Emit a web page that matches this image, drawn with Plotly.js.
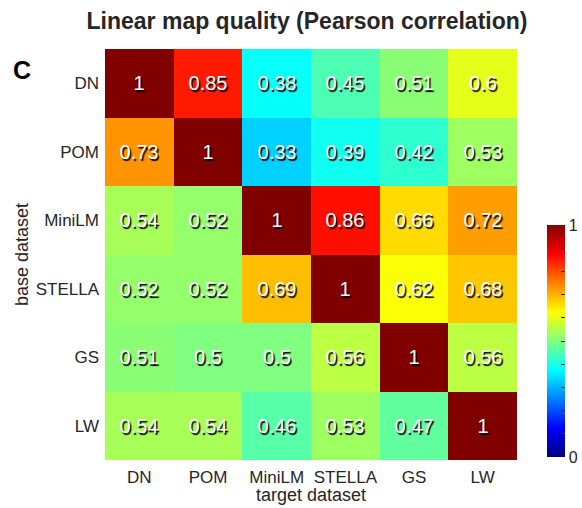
<!DOCTYPE html>
<html><head><meta charset="utf-8">
<script src="https://cdn.plot.ly/plotly-3.0.1.min.js"></script>
<style>html,body{margin:0;padding:0;background:#fff}#c{width:582px;height:508px}</style>
</head><body><div id="c"></div>
<script>
const targets = ['DN','POM','MiniLM','STELLA','GS','LW'];
const bases = ['DN','POM','MiniLM','STELLA','GS','LW'];
const rowDN = [1, 0.85, 0.38, 0.45, 0.51, 0.6];
const rowPOM = [0.73, 1, 0.33, 0.39, 0.42, 0.53];
const rowMiniLM = [0.54, 0.52, 1, 0.86, 0.66, 0.72];
const rowSTELLA = [0.52, 0.52, 0.69, 1, 0.62, 0.68];
const rowGS = [0.51, 0.5, 0.5, 0.56, 1, 0.56];
const rowLW = [0.54, 0.54, 0.46, 0.53, 0.47, 1];
const z = [rowDN, rowPOM, rowMiniLM, rowSTELLA, rowGS, rowLW];
const cbTickVals = [0,0.1,0.2,0.3,0.4,0.5,0.6,0.7,0.8,0.9,1];
const cbTickText = ['0','','','','','','','','','','1'];

const jet = [[0,'rgb(0,0,128)'],[0.125,'rgb(0,0,255)'],[0.375,'rgb(0,255,255)'],[0.625,'rgb(255,255,0)'],[0.875,'rgb(255,0,0)'],[1,'rgb(128,0,0)']];
const txtCol = '#262626';
const fam = '"Liberation Sans", Arial, sans-serif';
const L = 105, R = 517, T = 49, B = 460, W = 582, H = 508;
const px = v => (v - L) / (R - L);
const py = v => (B - v) / (B - T);

const trace = {
  type:'heatmap', x: targets, y: bases, z: z,
  zmin:0, zmax:1, colorscale: jet,
  text: z.map(r=>r.map(v=>String(v))),
  texttemplate:'%{text}',
  textfont:{family:fam, size:20, color:'white', shadow:'1.5px 1.5px 1px #000'},
  hoverinfo:'none',
  colorbar:{
    x:px(547), xanchor:'left', xref:'paper',
    y:py(457), yanchor:'bottom', len:(457-225)/(B-T), lenmode:'fraction',
    thickness:18, thicknessmode:'pixels', outlinewidth:0,
    tickmode:'array', tickvals: cbTickVals, ticktext: cbTickText,
    ticks:'inside', ticklen:4, tickcolor:'#333', tickwidth:1,
    tickfont:{family:fam, size:16, color:txtCol}, xpad:0, ypad:0
  }
};

const layout = {
  width:W, height:H,
  margin:{l:L, r:W-R, t:T, b:H-B, autoexpand:false},
  paper_bgcolor:'white', plot_bgcolor:'white',
  font:{family:fam, color:txtCol},
  title:{text:'<b>Linear map quality (Pearson correlation)</b>', x:px(307), xref:'paper', xanchor:'center', y:1-21/H, yref:'container', yanchor:'middle', font:{family:fam, size:23, color:txtCol}},
  xaxis:{type:'category', showgrid:false, zeroline:false, showline:false, ticks:'', tickfont:{size:17, color:txtCol}, ticklabelstandoff:5, automargin:false},
  yaxis:{type:'category', autorange:'reversed', showgrid:false, zeroline:false, showline:false, ticks:'', tickfont:{size:17, color:txtCol}, ticklabelstandoff:5, automargin:false},
  annotations:[
    {text:'<b>C</b>', xref:'paper', yref:'paper', x:px(22), y:py(70), xanchor:'center', yanchor:'middle', showarrow:false, font:{family:fam, size:25, color:'#000'}},
    {text:'target dataset', xref:'paper', yref:'paper', x:0.5, y:py(495), xanchor:'center', yanchor:'middle', showarrow:false, font:{family:fam, size:18, color:txtCol}},
    {text:'base dataset', xref:'paper', yref:'paper', x:px(22), y:py(255), xanchor:'center', yanchor:'middle', textangle:-90, showarrow:false, font:{family:fam, size:18, color:txtCol}}
  ]
};
Plotly.newPlot('c',[trace],layout,{displayModeBar:false, staticPlot:true});
</script></body></html>
